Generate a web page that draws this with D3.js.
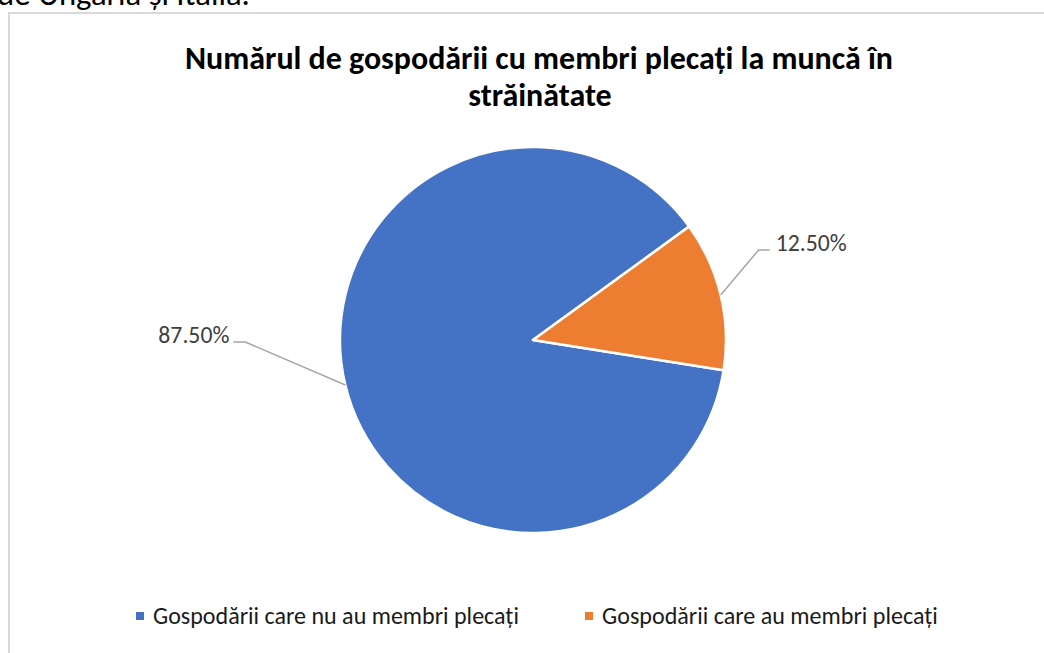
<!DOCTYPE html>
<html>
<head>
<meta charset="utf-8">
<script src="https://cdn.jsdelivr.net/npm/d3@7"></script>
<style>
  body { margin: 0; background: #fff; overflow: hidden; }
  svg { display: block; font-family: Carlito, Lato, "Open Sans", sans-serif; }
</style>
</head>
<body>
<svg id="chart" width="1044" height="653"></svg>
<script>
const categories = ['Gospodării care nu au membri plecați', 'Gospodării care au membri plecați'];
const values = [87.5, 12.5];
const colors = ['#4472C4', '#ED7D31'];
const titleLines = ['Numărul de gospodării cu membri plecați la muncă în', 'străinătate'];

const width = 1044, height = 653;
const cx = 533, cy = 340, radius = 193;
const startDeg = 99;

const svg = d3.select('#chart');

// shrink/grow a text so it spans the wanted width
function fit(sel, w) {
  const node = sel.node();
  const fs = parseFloat(sel.attr('font-size'));
  const len = node.getComputedTextLength();
  if (len > 0) sel.attr('font-size', (fs * w / len).toFixed(2));
  return sel;
}

// page text peeking above the chart
fit(svg.append('text')
  .attr('x', -3).attr('y', 5)
  .attr('font-size', 26)
  .attr('fill', '#000')
  .text('de Ungaria și Italia.'), 253);

// chart area border
svg.append('path')
  .attr('d', 'M9,' + height + 'V13H' + width)
  .attr('fill', 'none')
  .attr('stroke', '#d9d9d9')
  .attr('stroke-width', 2);

// title
const title = svg.append('g').attr('font-weight', 'bold').attr('fill', '#000')
  .attr('text-anchor', 'middle');
const t1 = title.append('text').attr('x', 539).attr('y', 69).attr('font-size', 30).text(titleLines[0]);
fit(t1, 708);
title.append('text').attr('x', 540).attr('y', 106).attr('font-size', t1.attr('font-size')).text(titleLines[1]);

// pie
const pie = d3.pie().sort(null)
  .startAngle(startDeg * Math.PI / 180)
  .endAngle((startDeg + 360) * Math.PI / 180);
const arcs = pie(values);
const arc = d3.arc().innerRadius(0).outerRadius(radius);

const g = svg.append('g').attr('transform', 'translate(' + [cx, cy] + ')');
g.selectAll('path.slice')
  .data(arcs)
  .join('path')
  .attr('class', 'slice')
  .attr('d', arc)
  .attr('fill', (d, i) => colors[i])
  .attr('stroke', '#fff')
  .attr('stroke-width', 2.5)
  .attr('stroke-linejoin', 'round');

// data labels with leader lines (offsets from the slice edge point)
const labelOffsets = [
  { elbow: [-100, -43], end: [-112, -43], text: [-116, -42], anchor: 'end' },
  { elbow: [38, -45], end: [49, -45], text: [55, -44], anchor: 'start' }
];
const fmt = d3.format('.2f');

arcs.forEach((d, i) => {
  const mid = (d.startAngle + d.endAngle) / 2;
  const p0 = [radius * Math.sin(mid), -radius * Math.cos(mid)];
  const o = labelOffsets[i];
  const pts = [p0, [p0[0] + o.elbow[0], p0[1] + o.elbow[1]], [p0[0] + o.end[0], p0[1] + o.end[1]]];
  g.append('polyline')
    .attr('points', pts.join(' '))
    .attr('fill', 'none')
    .attr('stroke', '#a6a6a6')
    .attr('stroke-width', 1.5);
  const lbl = g.append('text')
    .attr('x', p0[0] + o.text[0])
    .attr('y', p0[1] + o.text[1])
    .attr('text-anchor', o.anchor)
    .attr('font-size', 21)
    .attr('fill', '#404040')
    .text(fmt(d.data) + '%');
  fit(lbl, 71);
});

// legend
const legendX = [136, 585];
const leg = svg.append('g');
categories.forEach((c, i) => {
  leg.append('rect')
    .attr('x', legendX[i]).attr('y', 612)
    .attr('width', 8).attr('height', 8)
    .attr('fill', colors[i]);
  const t = leg.append('text')
    .attr('x', legendX[i] + 17).attr('y', 624)
    .attr('font-size', 22)
    .attr('fill', '#1a1a1a')
    .text(c);
  fit(t, i === 0 ? 366 : 336);
});
</script>
</body>
</html>
